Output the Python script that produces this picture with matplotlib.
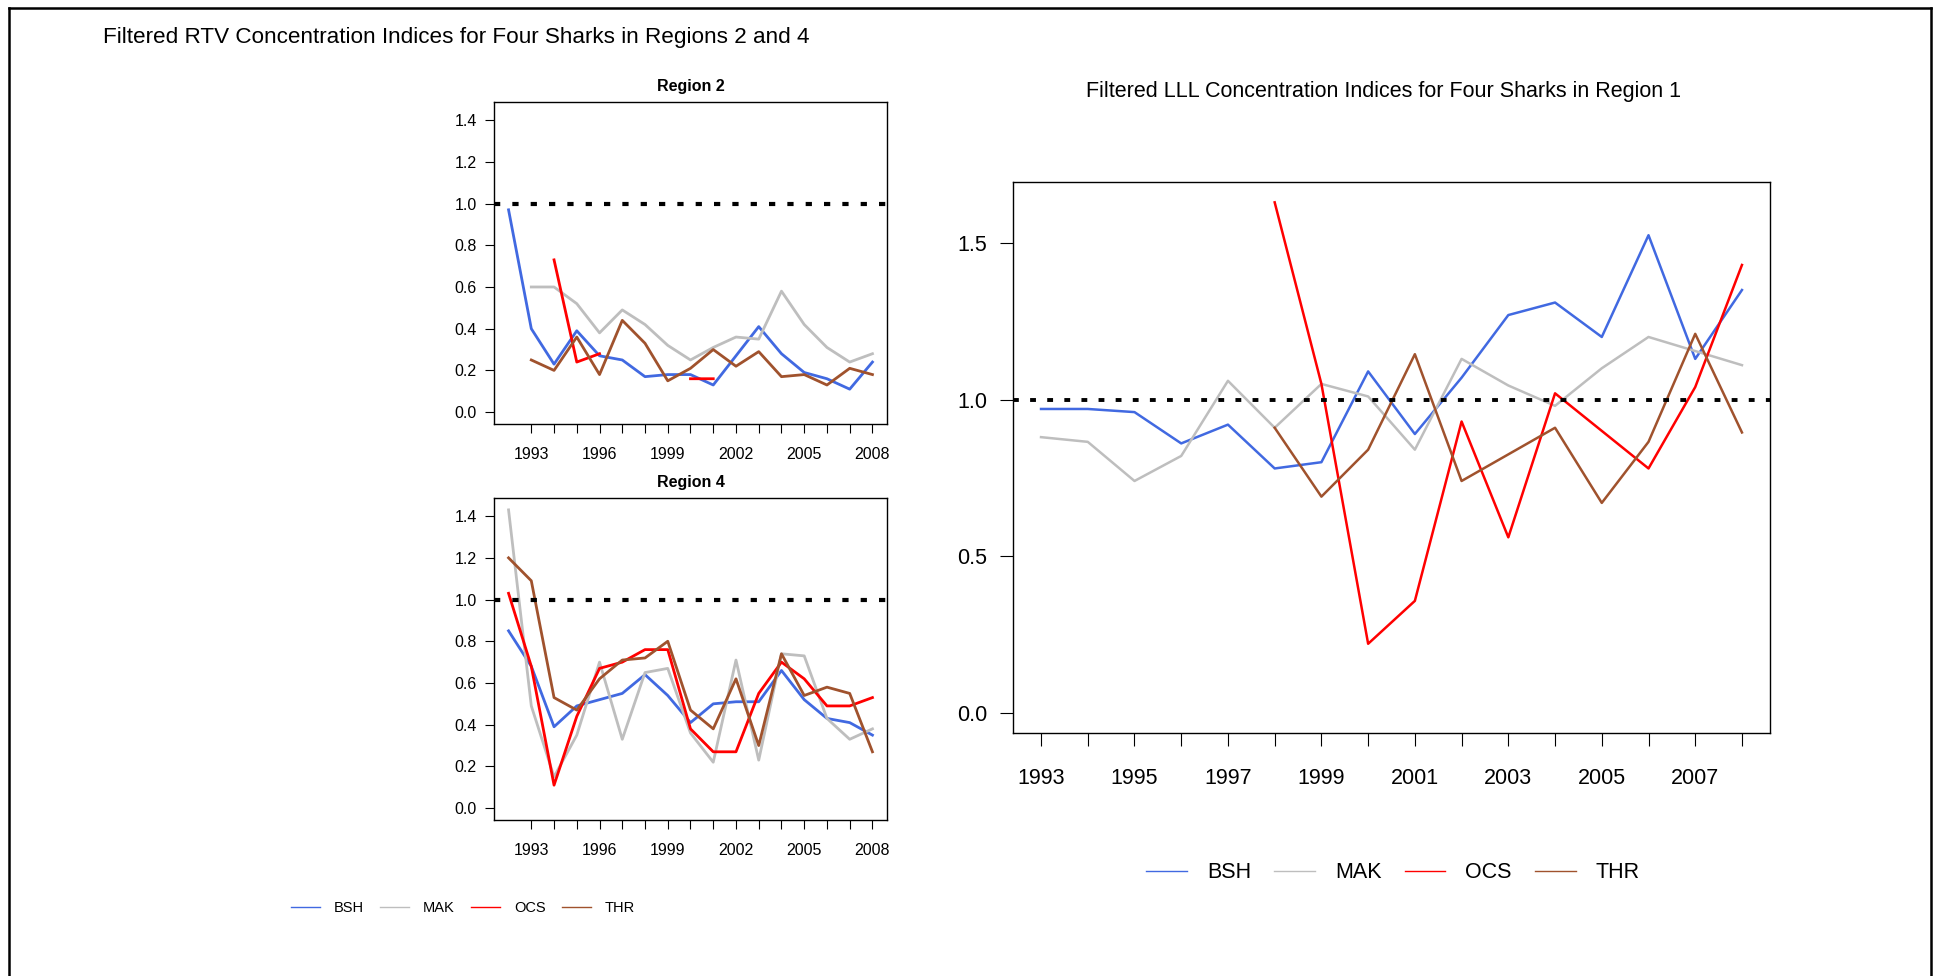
import numpy as np
import matplotlib
matplotlib.use("Agg")
import matplotlib.pyplot as plt
from matplotlib.lines import Line2D

plt.rcParams.update({
    "font.family": ["Liberation Sans", "DejaVu Sans"],
    "axes.linewidth": 1.0,
    "xtick.direction": "out", "ytick.direction": "out",
})

nan = np.nan
SPECIES = ["BSH", "MAK", "OCS", "THR"]
COLORS = {"BSH": "#4169E1", "MAK": "#BEBEBE", "OCS": "#FF0000", "THR": "#A0522D"}

# RTV, regions 2 and 4 (1992-2008)
years_rtv = list(range(1992, 2009))
bsh_r2 = [0.97, 0.40, 0.23, 0.39, 0.27, 0.25, 0.17, 0.18, 0.18, 0.13, 0.27, 0.41, 0.28, 0.19, 0.16, 0.11, 0.24]
mak_r2 = [nan, 0.60, 0.60, 0.52, 0.38, 0.49, 0.42, 0.32, 0.25, 0.31, 0.36, 0.35, 0.58, 0.42, 0.31, 0.24, 0.28]
ocs_r2 = [nan, nan, 0.73, 0.24, 0.28, nan, nan, nan, 0.16, 0.16, nan, nan, nan, nan, nan, nan, nan]
thr_r2 = [nan, 0.25, 0.20, 0.36, 0.18, 0.44, 0.33, 0.15, 0.21, 0.30, 0.22, 0.29, 0.17, 0.18, 0.13, 0.21, 0.18]

bsh_r4 = [0.85, 0.68, 0.39, 0.49, 0.52, 0.55, 0.64, 0.54, 0.41, 0.50, 0.51, 0.51, 0.66, 0.52, 0.43, 0.41, 0.35]
mak_r4 = [1.43, 0.49, 0.15, 0.35, 0.70, 0.33, 0.65, 0.67, 0.36, 0.22, 0.71, 0.23, 0.74, 0.73, 0.43, 0.33, 0.38]
ocs_r4 = [1.03, 0.68, 0.11, 0.44, 0.67, 0.70, 0.76, 0.76, 0.38, 0.27, 0.27, 0.55, 0.70, 0.62, 0.49, 0.49, 0.53]
thr_r4 = [1.20, 1.09, 0.53, 0.47, 0.62, 0.71, 0.72, 0.80, 0.47, 0.38, 0.62, 0.30, 0.74, 0.54, 0.58, 0.55, 0.27]

# LLL, region 1 (1993-2008)
years_lll = list(range(1993, 2009))
bsh_r1 = [0.97, 0.97, 0.96, 0.86, 0.92, 0.78, 0.80, 1.09, 0.89, 1.07, 1.27, 1.31, 1.20, 1.525, 1.13, 1.35]
mak_r1 = [0.88, 0.865, 0.74, 0.82, 1.06, 0.91, 1.05, 1.01, 0.84, 1.13, 1.045, 0.98, 1.10, 1.20, 1.155, 1.11]
ocs_r1 = [nan, nan, nan, nan, nan, 1.63, 1.05, 0.22, 0.357, 0.93, 0.56, 1.02, 0.90, 0.78, 1.04, 1.43]
thr_r1 = [nan, nan, nan, nan, nan, 0.91, 0.69, 0.84, 1.145, 0.74, 0.825, 0.91, 0.67, 0.865, 1.21, 0.895]

W, H = 1941, 976
fig = plt.figure(figsize=(W / 100, H / 100), dpi=100)

def rect(l, t, r, b):
    return [l / W, 1 - b / H, (r - l) / W, (b - t) / H]

def refline(ax, lw):
    ax.axhline(1.0, color="black", lw=lw, ls=(0, (1.5, 2.9)), dash_capstyle="butt", zorder=3)

def small_panel(ax, series, title):
    for sp, vals in zip(SPECIES, series):
        ax.plot(years_rtv, vals, color=COLORS[sp], lw=2.0)
    refline(ax, 3.0)
    ax.set_xlim(1991.36, 2008.64)
    ax.set_ylim(-0.057, 1.487)
    ax.set_yticks(np.arange(0, 1.41, 0.2))
    ax.set_yticklabels([f"{v:.1f}" for v in np.arange(0, 1.41, 0.2)])
    ax.set_xticks(years_lll)
    ax.set_xticklabels([str(y) if (y - 1993) % 3 == 0 else "" for y in years_lll])
    ax.tick_params(axis="both", labelsize=11.5, length=6.5, width=0.8)
    ax.tick_params(axis="y", pad=6)
    ax.tick_params(axis="x", pad=10)
    ax.set_title(title, fontsize=11.5, fontweight="bold", pad=8)

ax2 = fig.add_axes(rect(494, 102, 887, 424))
small_panel(ax2, [bsh_r2, mak_r2, ocs_r2, thr_r2], "Region 2")
ax4 = fig.add_axes(rect(494, 498, 887, 820))
small_panel(ax4, [bsh_r4, mak_r4, ocs_r4, thr_r4], "Region 4")

ax1 = fig.add_axes(rect(1013, 182, 1770, 733))
for sp, vals in zip(SPECIES, [bsh_r1, mak_r1, ocs_r1, thr_r1]):
    ax1.plot(years_lll, vals, color=COLORS[sp], lw=1.8)
refline(ax1, 2.8)
ax1.set_xlim(1992.4, 2008.6)
ax1.set_ylim(-0.065, 1.695)
ax1.set_yticks([0, 0.5, 1.0, 1.5])
ax1.set_yticklabels(["0.0", "0.5", "1.0", "1.5"])
ax1.set_xticks(years_lll)
ax1.set_xticklabels([str(y) if (y - 1993) % 2 == 0 else "" for y in years_lll])
ax1.tick_params(axis="both", labelsize=15.5, length=9.5, width=0.8)
ax1.tick_params(axis="y", pad=9)
ax1.tick_params(axis="x", pad=15.5)

handles = [Line2D([], [], color=COLORS[sp], lw=1.0) for sp in SPECIES]
fig.legend(handles, SPECIES, loc="center", bbox_to_anchor=(463 / W, 1 - 908 / H),
           ncol=4, frameon=False, fontsize=10.5, handlelength=2.0,
           handletextpad=0.95, columnspacing=1.1)
fig.legend(handles, SPECIES, loc="center", bbox_to_anchor=(1393 / W, 1 - 873 / H),
           ncol=4, frameon=False, fontsize=15.5, handlelength=1.9,
           handletextpad=0.93, columnspacing=1.07)

fig.text(103 / W, 1 - 37 / H, "Filtered RTV Concentration Indices for Four Sharks in Regions 2 and 4",
         ha="left", va="center", fontsize=16.2)
fig.text(1384 / W, 1 - 92 / H, "Filtered LLL Concentration Indices for Four Sharks in Region 1",
         ha="center", va="center", fontsize=15.5)

# outer frame (top, left, right)
x0, x1, yt = 8.5 / W, 1931 / W, 1 - 7.5 / H
for xs, ys in [([x0, x1], [yt, yt]), ([x0, x0], [0, yt]), ([x1, x1], [0, yt])]:
    fig.add_artist(Line2D(xs, ys, transform=fig.transFigure, color="black", lw=1.8))

fig.savefig("out.png", dpi=100)
